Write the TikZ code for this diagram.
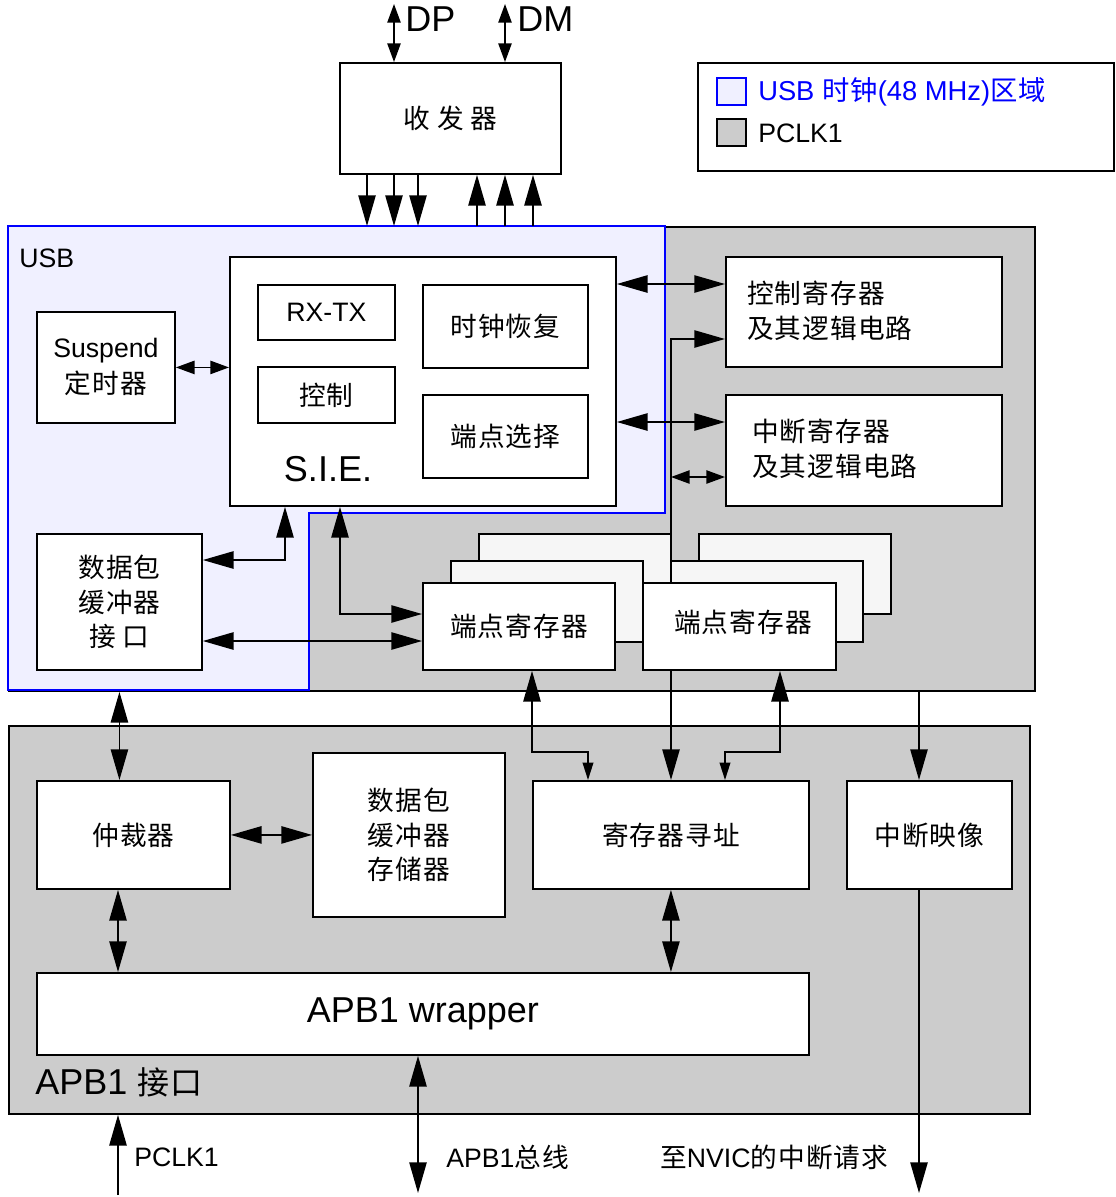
\documentclass[tikz,border=0pt]{standalone}
\usepackage{fontspec}
\setmainfont{Liberation Sans}
\newfontfamily\cjk[LetterSpace=4]{Noto Sans CJK SC}
\newcommand{\zh}[1]{{\cjk #1}}
\usetikzlibrary{arrows.meta}
\definecolor{usbfill}{RGB}{240,240,255}
\definecolor{pgray}{RGB}{204,204,204}
\definecolor{backfill}{RGB}{246,246,246}
\tikzset{
  BigT/.tip={Triangle[length=23pt,width=13pt]},
  MidT/.tip={Triangle[length=14pt,width=10pt]},
  SmlT/.tip={Triangle[length=13pt,width=8pt]},
}
% \bx[style]{name}{x1}{y1}{x2}{y2}{text}
\newcommand\bx[7][]{\node[box,#1,minimum width={(#5-#3)*0.75pt},minimum height={(#6-#4)*0.75pt},anchor=north west] (#2) at (#3,#4) {#7};}
\begin{document}
\begin{tikzpicture}[x=0.75pt,y=-0.75pt,
  every node/.style={font=\fontsize{20}{24}\selectfont,inner sep=0pt},
  box/.style={draw=black,fill=white,line width=1.4pt,inner sep=0pt,align=center},
  backbox/.style={fill=backfill},
  region/.style={fill=pgray},
  conn/.style={line width=1.1pt},
  big/.style={font=\fontsize{27}{30}\selectfont},
]
\useasboundingbox (0,0) rectangle (1115,1197);

% ---------- regions ----------
\bx[region]{usbarea}{8}{226}{1034}{690}{}
\fill[usbfill] (8,226) -- (665,226) -- (665,513) -- (309,513) -- (309,690) -- (8,690) -- cycle;
\draw[blue, line width=1.4pt] (8,226) -- (665,226) -- (665,513) -- (309,513) -- (309,690) -- (8,690) -- cycle;
\bx[region]{apbarea}{8}{725}{1029}{1113}{}
\node[anchor=west] (usblbl) at (19,258) {USB};
\node[anchor=west, big] (apblbl) at (35,1082) {APB1 \zh{\fontsize{24}{26}\selectfont 接口}};

% ---------- legend ----------
\bx{legend}{697}{62}{1113}{170}{}
\bx[fill=usbfill, draw=blue, line width=1.2pt]{lgusb}{716}{77}{745}{104}{}
\bx[fill=pgray, line width=1.2pt]{lgpclk}{716}{118}{745}{145}{}
\node[anchor=west, text=blue, font=\fontsize{20.5}{24}\selectfont] (lgusbt) at (758,92) {USB \zh{时钟}(48 MHz)\zh{区域}};
\node[anchor=west] (lgpclkt) at (758,133) {PCLK1};

% ---------- transceiver ----------
\bx{trx}{339}{62}{560}{173}{\zh{收 发 器}}
\node[anchor=west, big] (dplbl) at (405,19) {DP};
\node[anchor=west, big] (dmlbl) at (517,19) {DM};
\coordinate (dpTop) at (394,4);
\coordinate (dmTop) at (505,4);
\draw[conn, MidT-MidT] (dpTop) -- (dpTop |- trx.north);
\draw[conn, MidT-MidT] (dmTop) -- (dmTop |- trx.north);
\foreach \xx in {367,394,418}
  \draw[conn, -BigT] (trx.south -| \xx,0) -- (usbarea.north -| \xx,0);
\foreach \xx in {477,505,533}
  \draw[conn, -BigT] (usbarea.north -| \xx,0) -- (trx.south -| \xx,0);

% ---------- SIE ----------
\bx{sie}{229}{256}{615}{505}{}
\node[big] (sielbl) at (328,469) {S.I.E.};
\bx{rxtx}{257}{284}{394}{339}{RX-TX}
\bx{ctl}{257}{366}{394}{422}{\zh{控制}}
\bx{clkrec}{422}{284}{587}{367}{\zh{时钟恢复}}
\bx{epsel}{422}{394}{587}{477}{\zh{端点选择}}
\bx{susp}{36}{311}{174}{422}{Suspend\\[3pt]\zh{定时器}}

\bx{ctrl}{725}{256}{1001}{366}{}
\node[anchor=west, align=left] (ctrlt) at (747,311) {\zh{控制寄存器}\\[2pt]\zh{及其逻辑电路}};
\bx{intr}{725}{394}{1001}{505}{}
\node[anchor=west, align=left] (intrt) at (752,449) {\zh{中断寄存器}\\[2pt]\zh{及其逻辑电路}};

\bx{pktif}{36}{533}{201}{669}{\zh{数据包}\\[2pt]\zh{缓冲器}\\[2pt]\zh{接 口}}

% line from endpoint registers to control register and address decoder
\draw[conn, BigT-BigT] (ctrl.west |- 0,339) -| (671,780);

% ---------- endpoint register stacks ----------
\bx[backbox]{epLb}{478}{533}{670}{613}{}
\bx[backbox]{epLm}{450}{560}{642}{641}{}
\bx{epLf}{422}{582}{614}{669}{\zh{端点寄存器}}
\bx[backbox]{epRb}{698}{533}{890}{613}{}
\bx[backbox]{epRm}{670}{560}{862}{641}{}
\bx{epRf}{642}{582}{835}{669}{}
\node (epRft) at (743,622) {\zh{端点寄存器}};

% ---------- APB1 part ----------
\bx{arb}{36}{780}{229}{888}{\zh{仲裁器}}
\bx{mem}{312}{752}{504}{916}{\zh{数据包}\\[2pt]\zh{缓冲器}\\[2pt]\zh{存储器}}
\bx{regaddr}{532}{780}{808}{888}{\zh{寄存器寻址}}
\bx{intmap}{846}{780}{1011}{888}{\zh{中断映像}}
\bx[big]{wrap}{36}{972}{808}{1054}{APB1 wrapper}

% ---------- connectors ----------
\draw[conn, MidT-MidT] (susp.east) -- (susp.east -| sie.west);
\draw[conn, BigT-BigT] (sie.east |- 0,284) -- (ctrl.west |- 0,284);
\draw[conn, BigT-BigT] (sie.east |- 0,422) -- (intr.west |- 0,422);
\draw[conn, MidT-MidT] (671,477) -- (intr.west |- 0,477);
\draw[conn, BigT-BigT] (sie.south -| 285,0) |- (pktif.east |- 0,560);
\draw[conn, BigT-BigT] (sie.south -| 340,0) |- (epLf.west |- 0,614);
\draw[conn, BigT-BigT] (pktif.east |- 0,641) -- (epLf.west |- 0,641);
\draw[conn, BigT-BigT] (usbarea.south -| pktif.south) -- (arb.north -| pktif.south);
\draw[conn, BigT-BigT] (arb.east) -- (arb.east -| mem.west);
\draw[conn, BigT-SmlT] (epLf.south -| 532,0) |- (588,752) -- (regaddr.north -| 588,0);
\draw[conn, BigT-SmlT] (epRf.south -| 780,0) |- (725,752) -- (regaddr.north -| 725,0);
\draw[conn, -BigT] (usbarea.south -| 919,0) -- (intmap.north -| 919,0);
\coordinate (nvicEnd) at (919,1193);
\draw[conn, -BigT] (intmap.south -| nvicEnd) -- (nvicEnd);
\draw[conn, BigT-BigT] (arb.south -| 118,0) -- (wrap.north -| 118,0);
\draw[conn, BigT-BigT] (regaddr.south) -- (regaddr.south |- wrap.north);
\coordinate (apbEnd) at (418,1193);
\draw[conn, BigT-BigT] (wrap.south -| apbEnd) -- (apbEnd);
\coordinate (pclkIn) at (118,1195);
\draw[conn, -BigT] (pclkIn) -- (pclkIn |- apbarea.south);

% ---------- bottom labels ----------
\node[anchor=west] (pclkl) at (134,1157) {PCLK1};
\node[anchor=west] (apbl) at (446,1157) {APB1\zh{总线}};
\node[anchor=west] (nvicl) at (660,1157) {\zh{至}NVIC\zh{的中断请求}};
\end{tikzpicture}
\end{document}
